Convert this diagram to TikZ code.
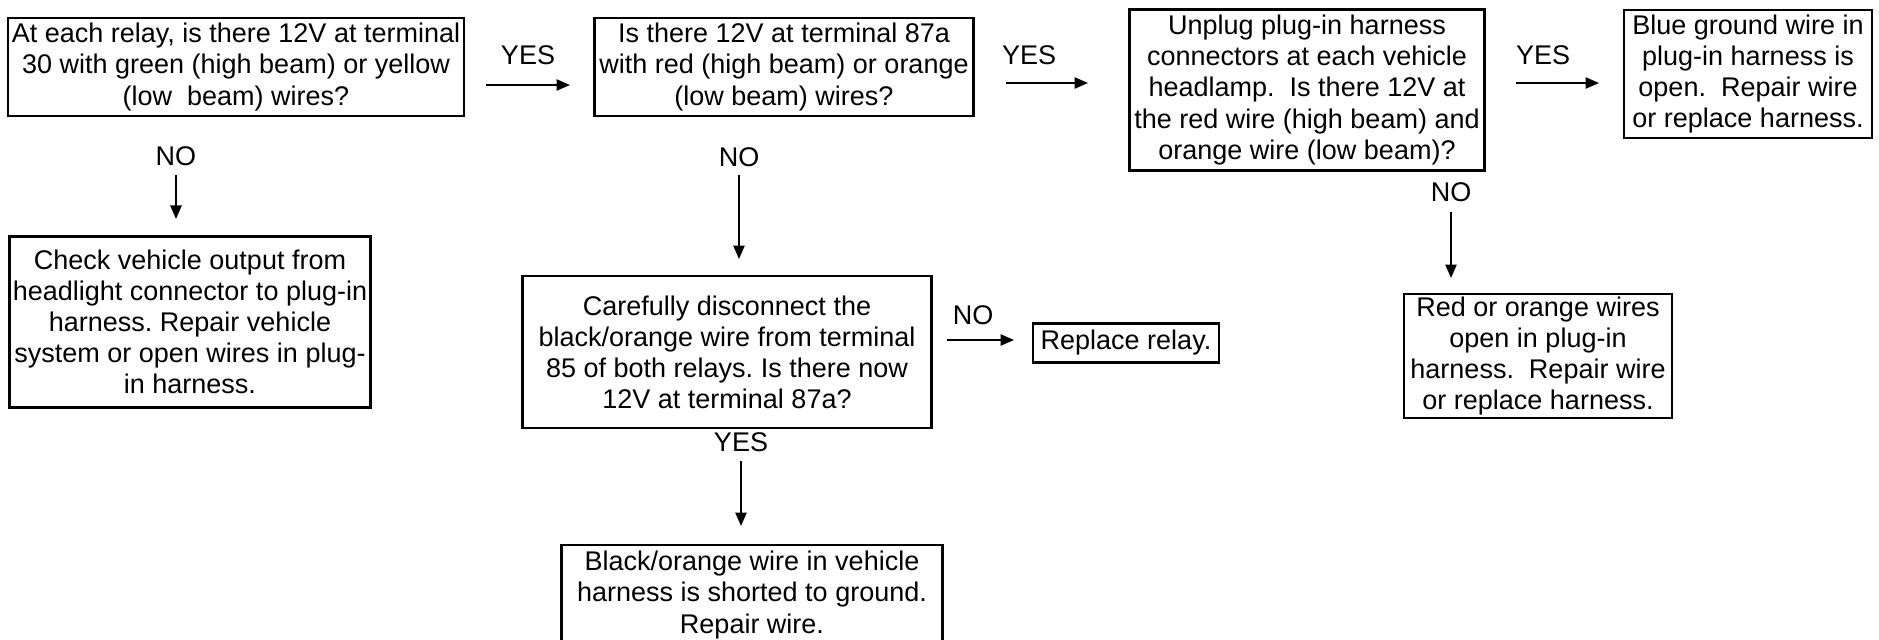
\documentclass[tikz,border=0pt]{standalone}
\usepackage{fontspec}
\setmainfont{Liberation Sans}
\usetikzlibrary{arrows.meta}
\frenchspacing

\begin{document}
\begin{tikzpicture}[x=0.4444pt,y=-0.4444pt,>={Triangle[length=6pt,width=5pt]},
  box/.style={draw,line width=1.1pt,align=center,inner sep=0pt,
    font=\fontsize{12}{13.8}\selectfont},
  lbl/.style={inner sep=0pt,font=\fontsize{12}{13.8}\selectfont},
  flow/.style={->,line width=0.8pt}]
  \useasboundingbox (0,0) rectangle (1879,640);
  % top row of checks
  \node[box,minimum width=202.6pt,minimum height=43.6pt] (relay30) at (236,67)
    {At each relay, is there 12V at terminal\\30 with green (high beam) or yellow\\(low\ \ beam) wires?};
  \node[box,minimum width=168.5pt,minimum height=43.6pt] (relay87) at (784,67)
    {Is there 12V at terminal 87a\\with red (high beam) or orange\\(low beam) wires?};
  \node[box,minimum width=157.8pt,minimum height=71.6pt] (unplug) at (1307,90)
    {Unplug plug-in harness\\connectors at each vehicle\\headlamp.\ \ Is there 12V at\\the red wire (high beam) and\\orange wire (low beam)?};
  \node[box,minimum width=110.2pt,minimum height=56.9pt] (blueopen) at (1748,74)
    {Blue ground wire in\\plug-in harness is\\open.\ \ Repair wire\\or replace harness.};
  % second row
  \node[box,minimum width=160.4pt,minimum height=76pt] (vehout) at (190,322)
    {Check vehicle output from\\headlight connector to plug-in\\harness. Repair vehicle\\system or open wires in plug-\\in harness.};
  \node[box,minimum width=181.8pt,minimum height=67.5pt] (discon) at (727,352)
    {Carefully disconnect the\\black/orange wire from terminal\\85 of both relays. Is there now\\12V at terminal 87a?};
  \node[box,minimum width=82.7pt,minimum height=17.3pt] (newrelay) at (1126,343)
    {Replace relay.};
  \node[box,minimum width=119.1pt,minimum height=55.1pt] (redopen) at (1538,356)
    {Red or orange wires\\open in plug-in\\harness.\ \ Repair wire\\or replace harness.};
  % bottom
  \node[box,minimum width=169.3pt,minimum height=44.4pt] (shorted) at (752,595)
    {Black/orange wire in vehicle\\harness is shorted to ground.\\Repair wire.};
  % answer labels
  \node[lbl] (yesA) at (528,55) {YES};
  \node[lbl] (yesB) at (1029,55) {YES};
  \node[lbl] (yesC) at (1543,55) {YES};
  \node[lbl] (yesD) at (741,442) {YES};
  \node[lbl] (noA) at (176,156) {NO};
  \node[lbl] (noB) at (739,157) {NO};
  \node[lbl] (noC) at (1451,192) {NO};
  \node[lbl] (noD) at (973,315) {NO};
  % arrow ends
  \coordinate (yesA1) at (486,85);  \coordinate (yesA2) at (570,85);
  \coordinate (yesB1) at (1006,83); \coordinate (yesB2) at (1088,83);
  \coordinate (yesC1) at (1516,83); \coordinate (yesC2) at (1599,83);
  \coordinate (noD1) at (947,340);  \coordinate (noD2) at (1014,340);
  \coordinate (noA1) at (176,175);  \coordinate (noA2) at (176,219);
  \coordinate (noB1) at (739,175);  \coordinate (noB2) at (739,259);
  \coordinate (noC1) at (1451,212); \coordinate (noC2) at (1451,278);
  \coordinate (yesD1) at (741,461); \coordinate (yesD2) at (741,526);
  \draw[flow] (yesA1) -- (yesA2);
  \draw[flow] (yesB1) -- (yesB2);
  \draw[flow] (yesC1) -- (yesC2);
  \draw[flow] (noD1) -- (noD2);
  \draw[flow] (noA1) -- (noA2);
  \draw[flow] (noB1) -- (noB2);
  \draw[flow] (noC1) -- (noC2);
  \draw[flow] (yesD1) -- (yesD2);
\end{tikzpicture}
\end{document}
